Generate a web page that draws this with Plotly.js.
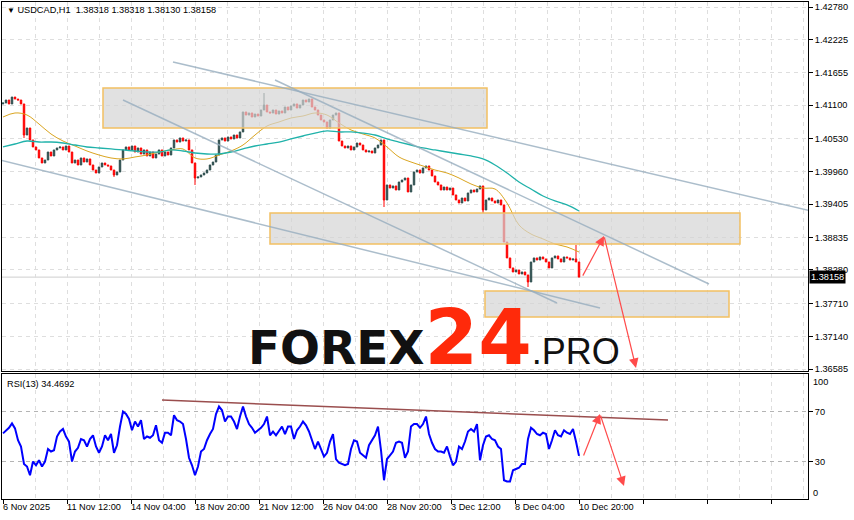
<!DOCTYPE html>
<html><head><meta charset="utf-8">
<script src="https://cdn.plot.ly/plotly-3.0.1.min.js"></script>
<style>html,body{margin:0;padding:0;background:#fff}#chart{width:854px;height:520px}</style>
</head><body><div id="chart"></div>
<script>
const barStep = 3;           // hours between sampled bars
const maStep = 12;           // hours between sampled MA points
const firstOpen = 1.41121;
const closes = [
 1.41138,1.41189,1.41121,1.41240,1.41206,1.41189,1.41121,1.40590,1.40710,1.40505,
 1.40385,1.40334,1.40197,1.40111,1.40162,1.40299,1.40231,1.40334,1.40368,1.40385,
 1.40334,1.40402,1.40299,1.40111,1.40162,1.40077,1.40197,1.40128,1.40180,1.40077,
 1.39991,1.39940,1.40043,1.40111,1.40077,1.40060,1.39991,1.39906,1.39957,1.40162,
 1.40334,1.40385,1.40334,1.40402,1.40299,1.40368,1.40265,1.40334,1.40231,1.40299,
 1.40197,1.40265,1.40334,1.40231,1.40299,1.40248,1.40368,1.40505,1.40470,1.40539,
 1.40487,1.40505,1.40334,1.40111,1.39854,1.39872,1.39906,1.39940,1.39991,1.40077,
 1.40128,1.40248,1.40505,1.40539,1.40487,1.40556,1.40522,1.40590,1.40539,1.40642,
 1.40984,1.40932,1.40967,1.40898,1.40949,1.40915,1.41018,1.41103,1.40984,1.40967,
 1.41018,1.40949,1.41001,1.40967,1.41069,1.41018,1.41086,1.41121,1.41052,1.41103,
 1.41189,1.41155,1.41206,1.41069,1.41018,1.40932,1.40847,1.40813,1.40710,1.40847,
 1.40932,1.40967,1.40487,1.40402,1.40368,1.40402,1.40334,1.40385,1.40453,1.40419,
 1.40334,1.40299,1.40316,1.40282,1.40368,1.40419,1.40505,1.39478,1.39735,1.39683,
 1.39718,1.39649,1.39786,1.39820,1.39854,1.39615,1.39735,1.39957,1.39991,1.39940,
 1.40026,1.40060,1.39991,1.39889,1.39786,1.39735,1.39649,1.39700,1.39649,1.39683,
 1.39564,1.39478,1.39427,1.39512,1.39461,1.39598,1.39649,1.39615,1.39666,1.39718,
 1.39307,1.39478,1.39512,1.39461,1.39427,1.39478,1.39393,1.38759,1.38486,1.38315,
 1.38246,1.38280,1.38212,1.38246,1.38195,1.38075,1.38417,1.38486,1.38451,1.38503,
 1.38469,1.38417,1.38315,1.38486,1.38520,1.38469,1.38417,1.38503,1.38486,1.38451,
 1.38469,1.38417,1.38158
];
const spikeIdx  = [7, 37, 64, 87, 127, 160, 175, 191];
const spikeHigh = [null, null, null, 1.41309, null, null, null, 1.38708];
const spikeLow  = [1.40539, 1.39872, 1.39735, null, 1.39358, 1.39256, 1.37989, null];

const maFast = [
 1.40898,1.40967,1.40932,1.40778,1.40607,1.40487,1.40402,1.40316,1.40248,1.40197,
 1.40180,1.40214,1.40248,1.40299,1.40334,1.40351,1.40197,1.40180,1.40248,1.40316,
 1.40419,1.40590,1.40744,1.40813,1.40881,1.40915,1.40967,1.40932,1.40796,1.40676,
 1.40607,1.40539,1.40385,1.40214,1.40128,1.40060,1.39991,1.39940,1.39854,1.39752,
 1.39683,1.39666,1.39427,1.39050,1.38896,1.38811,1.38725,1.38674,1.38588
];
const maSlow = [
 1.40385,1.40436,1.40487,1.40470,1.40470,1.40453,1.40419,1.40385,1.40368,1.40351,
 1.40334,1.40316,1.40299,1.40299,1.40334,1.40316,1.40282,1.40265,1.40265,1.40299,
 1.40351,1.40402,1.40436,1.40470,1.40522,1.40573,1.40624,1.40659,1.40642,1.40642,
 1.40624,1.40590,1.40522,1.40470,1.40419,1.40368,1.40334,1.40299,1.40265,1.40231,
 1.40180,1.40077,1.39940,1.39786,1.39666,1.39546,1.39461,1.39393,1.39290
];
const rsi = [
 52.5,55,57,60.5,56.5,47,42,28,26,19,
 30,27,31,26,30,40,38,39,50,54,
 56,50,46,30,38,41,48,47,42,48,
 51,42,37,42,51,47,52,37,43,58,
 70,68,64,55,62,58,63,48,50,49,
 51,59,47,45,53,53,51,67,63,62,
 60,48,33,27,19,26,38,40,47,52,
 56,68,74,71,62,66,66,62,56,66,
 74,66,60,57,53,55,57,60,66,51,
 54,51,55,58,52,58,58,48,55,58,
 62,59,54,46,40,46,40,34,37,46,
 52,32,29,28,27,28,40,47,46,37,
 35,33,43,47,51,58,39,15,32,35,
 38,45,46,45,33,38,58,60,60,57,
 60,66,52,45,40,38,38,37,42,34,
 27,30,42,40,46,54,56,54,60,31,
 43,50,51,48,47,42,40,15,14,14,
 23,24,25,28,28,48,57,55,52,51,
 53,52,40,47,55,51,50,55,53,52,
 56,46,34.4692
];
const priceTicks = [1.42780,1.42225,1.41655,1.41100,1.40530,1.39960,1.39405,1.38835,1.38280,1.37710,1.37140,1.36585];
const timeTickBars = [0,64,128,192,256,320,384,448,512,576];
const timeTickLabels = ['6 Nov 2025','11 Nov 12:00','14 Nov 04:00','18 Nov 20:00','21 Nov 12:00','26 Nov 04:00','28 Nov 20:00','3 Dec 12:00','8 Dec 04:00','10 Dec 20:00'];
const lastPrice = 1.38158;
const headerText = 'USDCAD,H1\u00a0\u00a01.38318 1.38318 1.38130 1.38158';
const rsiLabel = 'RSI(13) 34.4692';

// analyst drawings (bar offset, price / rsi)
const zones = [
  {x0:100, x1:484, y0:1.41394, y1:1.40710},
  {x0:267, x1:737, y0:1.39256, y1:1.38725},
  {x0:482, x1:726, y0:1.37921, y1:1.37476}
];
const trendLines = [
  {x0:170, y0:1.41839, x1:851, y1:1.39119},
  {x0:272, y0:1.41531, x1:706, y1:1.38041},
  {x0:120, y0:1.41189, x1:554, y1:1.37716},
  {x0:-3,  y0:1.40162, x1:597, y1:1.37630}
];
const priceArrows = [
  {ax:579, ay:1.38158, x:601, y:1.38862},
  {ax:601, ay:1.38862, x:633, y:1.36604}
];
const rsiLine = {x0:159, y0:79.2, x1:665, y1:63.2};
const rsiArrows = [
  {ax:580, ay:33.6, x:597, y:68},
  {ax:597, ay:68, x:621, y:10.4}
];

// ---- BUILD ----
const xs = closes.map((_, i) => i * barStep);
const opens = closes.map((c, i) => i === 0 ? firstOpen : closes[i - 1]);
const highs = closes.map((c, i) => Math.max(c, opens[i]));
const lows = closes.map((c, i) => Math.min(c, opens[i]));
spikeIdx.forEach((k, j) => {
  if (spikeHigh[j] != null) highs[k] = Math.max(highs[k], spikeHigh[j]);
  if (spikeLow[j] != null) lows[k] = Math.min(lows[k], spikeLow[j]);
});
const maX = maFast.map((_, i) => i * maStep);
const rsiX = rsi.map((_, i) => i * barStep);

const FONT = 'Liberation Sans, Arial, sans-serif';
const FS = 9.2;
const gridC = '#dedede';
const DASH = '4px,4px';

const traces = [
  {type:'candlestick', x:xs, open:opens, high:highs, low:lows, close:closes,
   xaxis:'x', yaxis:'y', hoverinfo:'skip', showlegend:false,
   increasing:{line:{color:'#2F4F4F', width:1}, fillcolor:'#2F4F4F'},
   decreasing:{line:{color:'#FF0000', width:1}, fillcolor:'#FF0000'}},
  {type:'scatter', mode:'lines', x:maX, y:maFast, xaxis:'x', yaxis:'y',
   line:{color:'#DAA520', width:1, shape:'spline'}, hoverinfo:'skip', showlegend:false},
  {type:'scatter', mode:'lines', x:maX, y:maSlow, xaxis:'x', yaxis:'y',
   line:{color:'#20B2AA', width:1.3, shape:'spline'}, hoverinfo:'skip', showlegend:false},
  {type:'scatter', mode:'lines', x:rsiX, y:rsi, xaxis:'x2', yaxis:'y2',
   line:{color:'#0000FF', width:2}, hoverinfo:'skip', showlegend:false}
];

const shapes = [];
shapes.push({type:'line', xref:'paper', x0:0, x1:1, yref:'y', y0:lastPrice, y1:lastPrice,
  line:{color:'#cfcfcf', width:1}, layer:'below'});
zones.forEach(z => shapes.push({type:'rect', xref:'x', yref:'y', x0:z.x0, x1:z.x1, y0:z.y0, y1:z.y1,
  fillcolor:'rgba(212,212,212,0.7)', line:{color:'#F2C062', width:1.5}, layer:'above'}));
trendLines.forEach(l => shapes.push({type:'line', xref:'x', yref:'y', x0:l.x0, x1:l.x1, y0:l.y0, y1:l.y1,
  line:{color:'rgba(150,172,190,0.8)', width:1.5}, layer:'above'}));
shapes.push({type:'line', xref:'x2', yref:'y2', x0:rsiLine.x0, x1:rsiLine.x1, y0:rsiLine.y0, y1:rsiLine.y1,
  line:{color:'#9A4E4E', width:1.5}, layer:'above'});

const ann = [];
ann.push({xref:'paper', yref:'paper', x:0.004, y:0.9839, xanchor:'left', yanchor:'middle', showarrow:false,
  text:'<span style="font-size:8px">\u25BC</span> ' + headerText, font:{family:FONT, size:FS, color:'#000'}});
ann.push({xref:'paper', yref:'paper', x:0.004, y:0.2314, xanchor:'left', yanchor:'middle', showarrow:false,
  text:rsiLabel, font:{family:FONT, size:FS, color:'#000'}});
ann.push({xref:'paper', yref:'y', x:1, y:lastPrice, xanchor:'left', yanchor:'middle', xshift:1, showarrow:false,
  text:lastPrice.toFixed(5), bgcolor:'#000', borderpad:1, font:{family:FONT, size:FS, color:'#fff'}});
ann.push({xref:'paper', yref:'y2', x:1, y:93.8, xanchor:'left', yanchor:'middle', xshift:3, showarrow:false,
  text:'100', font:{family:FONT, size:FS, color:'#000'}});
ann.push({xref:'paper', yref:'y2', x:1, y:4.8, xanchor:'left', yanchor:'middle', xshift:3, showarrow:false,
  text:'0', font:{family:FONT, size:FS, color:'#000'}});
timeTickBars.forEach((b, i) => ann.push({xref:'x2', yref:'paper', x:b, y:-0.016, xanchor:'left', yanchor:'middle',
  xshift:-2, showarrow:false, text:timeTickLabels[i], font:{family:FONT, size:FS, color:'#000'}}));
ann.push({xref:'paper', yref:'paper', x:0.3027, y:0.2315, xanchor:'left', yanchor:'bottom', showarrow:false,
  text:'<span style="font-family:DejaVu Sans;font-size:47px;color:#111111"><b>FOREX</b></span>' +
       '<span style="font-family:DejaVu Sans;font-size:77px;color:#FF2A0A"><b>24</b></span>' +
       '<span style="font-family:Liberation Sans;font-size:36px;color:#111111">.PRO</span>',
  font:{family:'DejaVu Sans', size:47, color:'#111'}});
priceArrows.forEach(a => ann.push({xref:'x', yref:'y', axref:'x', ayref:'y', x:a.x, y:a.y, ax:a.ax, ay:a.ay,
  showarrow:true, arrowhead:2, arrowsize:1.6, arrowwidth:1.2, arrowcolor:'#FF4B4B', text:''}));
rsiArrows.forEach(a => ann.push({xref:'x2', yref:'y2', axref:'x2', ayref:'y2', x:a.x, y:a.y, ax:a.ax, ay:a.ay,
  showarrow:true, arrowhead:2, arrowsize:1.6, arrowwidth:1.2, arrowcolor:'#FF4B4B', text:''}));

const xCommon = {range:[-1, 805], tickmode:'linear', tick0:0, dtick:64, showgrid:true, gridcolor:gridC, griddash:DASH,
  minor:{tick0:0, dtick:32, showgrid:true, gridcolor:gridC, griddash:DASH},
  showline:true, linecolor:'#000', linewidth:1, mirror:true, zeroline:false, fixedrange:true};

const layout = {
  width:854, height:520, margin:{l:2, r:46, t:2, b:21},
  paper_bgcolor:'#fff', plot_bgcolor:'#fff', showlegend:false, dragmode:false,
  xaxis: Object.assign({}, xCommon, {anchor:'y', showticklabels:false, ticks:'', rangeslider:{visible:false}}),
  xaxis2: Object.assign({}, xCommon, {anchor:'y2', matches:'x', showticklabels:false, ticks:'outside', ticklen:4, tickcolor:'#000'}),
  yaxis: {domain:[0.2576, 1], range:[1.36552, 1.42866], side:'right', tickvals:priceTicks, tickformat:'.5f',
    ticks:'outside', ticklen:4, tickcolor:'#000', tickfont:{family:FONT, size:FS, color:'#000'},
    showgrid:true, gridcolor:gridC, griddash:DASH, showline:true, linecolor:'#000', mirror:true, zeroline:false, fixedrange:true},
  yaxis2: {domain:[0, 0.2515], range:[0, 100], side:'right', tickvals:[70, 30], ticktext:['70','30'],
    ticks:'outside', ticklen:4, tickcolor:'#000', tickfont:{family:FONT, size:FS, color:'#000'},
    showgrid:true, gridcolor:'#b4b4b4', griddash:DASH, showline:true, linecolor:'#000', mirror:true, zeroline:false, fixedrange:true},
  shapes: shapes,
  annotations: ann
};

Plotly.newPlot('chart', traces, layout, {staticPlot:true, displayModeBar:false});
</script></body></html>
